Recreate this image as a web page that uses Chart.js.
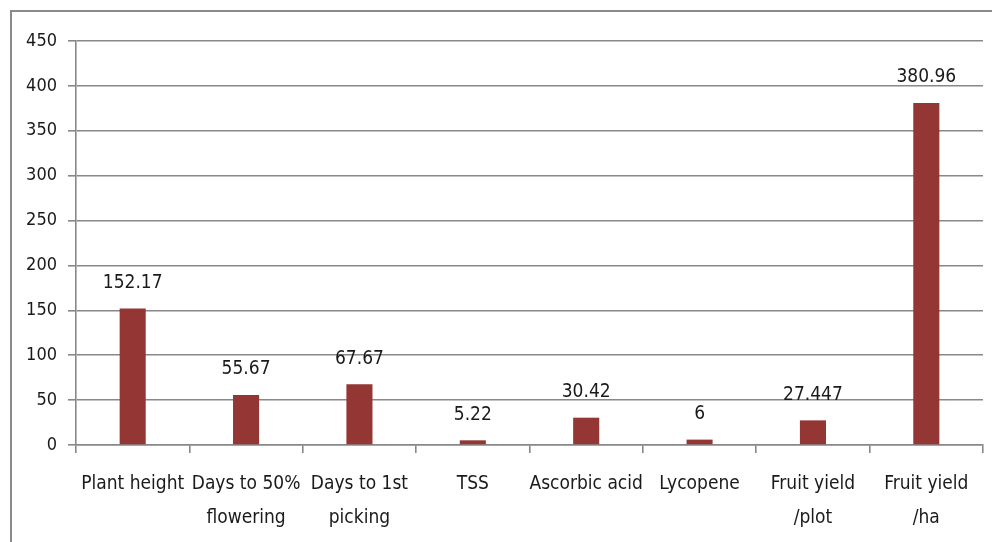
<!DOCTYPE html>
<html>
<head>
<meta charset="utf-8">
<script src="https://cdn.jsdelivr.net/npm/chart.js@4/dist/chart.umd.min.js"></script>
<style>
html,body{margin:0;padding:0;background:#fff;}
#wrap{position:relative;width:992px;height:542px;}
#frame{position:absolute;left:10px;top:10px;width:1000px;height:600px;border:2px solid #8a8a8a;box-sizing:border-box;}
canvas{position:absolute;left:0;top:0;}
</style>
</head>
<body>
<div id="wrap">
<div id="frame"></div>
<canvas id="c" width="992" height="542"></canvas>
</div>
<script>
const categories = ['Plant height', ['Days to 50%','flowering'], ['Days to 1st','picking'], 'TSS', 'Ascorbic acid', 'Lycopene', ['Fruit yield','/plot'], ['Fruit yield','/ha']];
const values = [152.17, 55.67, 67.67, 5.22, 30.42, 6, 27.447, 380.96];
const valueLabels = ['152.17', '55.67', '67.67', '5.22', '30.42', '6', '27.447', '380.96'];
const yTicks = [0, 50, 100, 150, 200, 250, 300, 350, 400, 450];

const FONT = '"Liberation Sans Narrow", "DejaVu Sans Condensed", "Liberation Sans", sans-serif';

const labelPlugin = {
  id: 'valueLabels',
  afterDatasetsDraw(chart) {
    const ctx = chart.ctx;
    const meta = chart.getDatasetMeta(0);
    ctx.save();
    ctx.font = '19px ' + FONT;
    ctx.fillStyle = '#1a1a1a';
    ctx.textAlign = 'center';
    ctx.textBaseline = 'bottom';
    meta.data.forEach((bar, i) => {
      ctx.fillText(valueLabels[i], bar.x, bar.y - 16);
    });
    ctx.restore();
  }
};

new Chart(document.getElementById('c'), {
  type: 'bar',
  data: {
    labels: categories,
    datasets: [{
      data: values,
      backgroundColor: '#943634',
      borderWidth: 0,
      barPercentage: 0.92,
      categoryPercentage: 0.25
    }]
  },
  options: {
    responsive: false,
    animation: false,
    layout: { padding: { left: 0, top: 41, right: 9, bottom: 0 } },
    plugins: { legend: { display: false }, tooltip: { enabled: false } },
    scales: {
      x: {
        grid: { display: true, drawOnChartArea: false, offset: true, color: '#888888', lineWidth: 1.6, tickLength: 8 },
        border: { display: true, color: '#888888', width: 1.6 },
        ticks: { font: { family: FONT, size: 19, lineHeight: 1.8 }, color: '#1a1a1a', padding: 14, maxRotation: 0, autoSkip: false },
        afterFit(scale) { scale.height = 542 - 445; }
      },
      y: {
        min: 0, max: 450,
        afterBuildTicks(scale) { scale.ticks = yTicks.map(v => ({ value: v })); },
        grid: { color: '#888888', lineWidth: 1.6, tickLength: 8 },
        border: { display: true, color: '#888888', width: 1.6 },
        ticks: { font: { family: FONT, size: 18 }, color: '#1a1a1a', padding: 11 },
        afterFit(scale) { scale.width = 76; }
      }
    }
  },
  plugins: [labelPlugin]
});
</script>
</body>
</html>
